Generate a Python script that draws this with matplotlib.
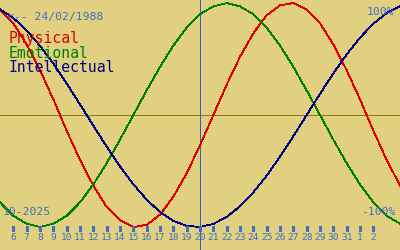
import matplotlib
matplotlib.use("Agg")
import matplotlib.pyplot as plt

# Days (October 2025 numbering, 32+ = November)
days = list(range(5, 36))
physical = [0.94, 0.82, 0.63, 0.40, 0.14, -0.14, -0.40, -0.63, -0.82, -0.94,
            -1.00, -0.98, -0.89, -0.73, -0.52, -0.27, 0.00, 0.27, 0.52, 0.73,
            0.89, 0.98, 1.00, 0.94, 0.82, 0.63, 0.40, 0.14, -0.14, -0.40, -0.63]
emotional = [-0.78, -0.90, -0.97, -1.00, -0.97, -0.90, -0.78, -0.62, -0.43, -0.22,
             0.00, 0.22, 0.43, 0.62, 0.78, 0.90, 0.97, 1.00, 0.97, 0.90,
             0.78, 0.62, 0.43, 0.22, 0.00, -0.22, -0.43, -0.62, -0.78, -0.90, -0.97]
intellectual = [0.945, 0.866, 0.756, 0.618, 0.458, 0.282, 0.095, -0.095, -0.282, -0.458,
                -0.618, -0.756, -0.866, -0.945, -0.990, -0.999, -0.972, -0.910, -0.815, -0.690,
                -0.541, -0.372, -0.189, 0.0, 0.189, 0.372, 0.541, 0.690, 0.815, 0.910, 0.972]

tick_days = list(range(6, 34))
tick_labels = [str(d) for d in range(6, 32)] + ["1", "2", "2"]
tick_labels = tick_labels[:len(tick_days)]
today = 20

bg = "#e0d080"
text_blue = "#3f6fc0"
mono = "DejaVu Sans Mono"

fig = plt.figure(figsize=(4, 2.5), dpi=100, facecolor=bg)
ax = fig.add_axes([0, 0, 1, 1], facecolor=bg)
ax.set_xlim(5, 35)
ax.set_ylim(-1.205, 1.027)
ax.axis("off")

LW = 0.6
ax.axhline(0, color="#8a7a10", lw=LW, antialiased=False)
ax.axvline(today, color="#3060c0", lw=LW, antialiased=False)

ax.plot(days, physical, color="#e00000", lw=LW, antialiased=False)
ax.plot(days, emotional, color="#008000", lw=LW, antialiased=False)
ax.plot(days, intellectual, color="#000080", lw=LW, antialiased=False)

xt = ax.get_xaxis_transform()
ax.vlines(tick_days, 0.078, 0.096, transform=xt, color=text_blue, lw=0.8, antialiased=False)
for d, lab in zip(tick_days, tick_labels):
    ax.text(d, 0.048, lab, transform=xt, ha="center", va="center",
            fontsize=6.8, family=mono, color=text_blue)

def px(x, y):
    return x / 400, 1 - y / 250

small = 8.2
ax.text(*px(7, 17), "<-- 24/02/1988", transform=ax.transAxes, ha="left", va="center",
        fontsize=small, family=mono, color=text_blue)
ax.text(*px(394, 12), "100%", transform=ax.transAxes, ha="right", va="center",
        fontsize=small, family=mono, color=text_blue)
ax.text(*px(395, 212), "-100%", transform=ax.transAxes, ha="right", va="center",
        fontsize=small, family=mono, color=text_blue)
ax.text(*px(3, 212), "10-2025", transform=ax.transAxes, ha="left", va="center",
        fontsize=small, family=mono, color=text_blue)

big = 10.6
ax.text(*px(9, 38), "Physical", transform=ax.transAxes, ha="left", va="center",
        fontsize=big, family=mono, color="#e00000")
ax.text(*px(9, 53), "Emotional", transform=ax.transAxes, ha="left", va="center",
        fontsize=big, family=mono, color="#008000")
ax.text(*px(9, 68), "Intellectual", transform=ax.transAxes, ha="left", va="center",
        fontsize=big, family=mono, color="#000080")

fig.savefig("out.png", dpi=100, facecolor=bg)
